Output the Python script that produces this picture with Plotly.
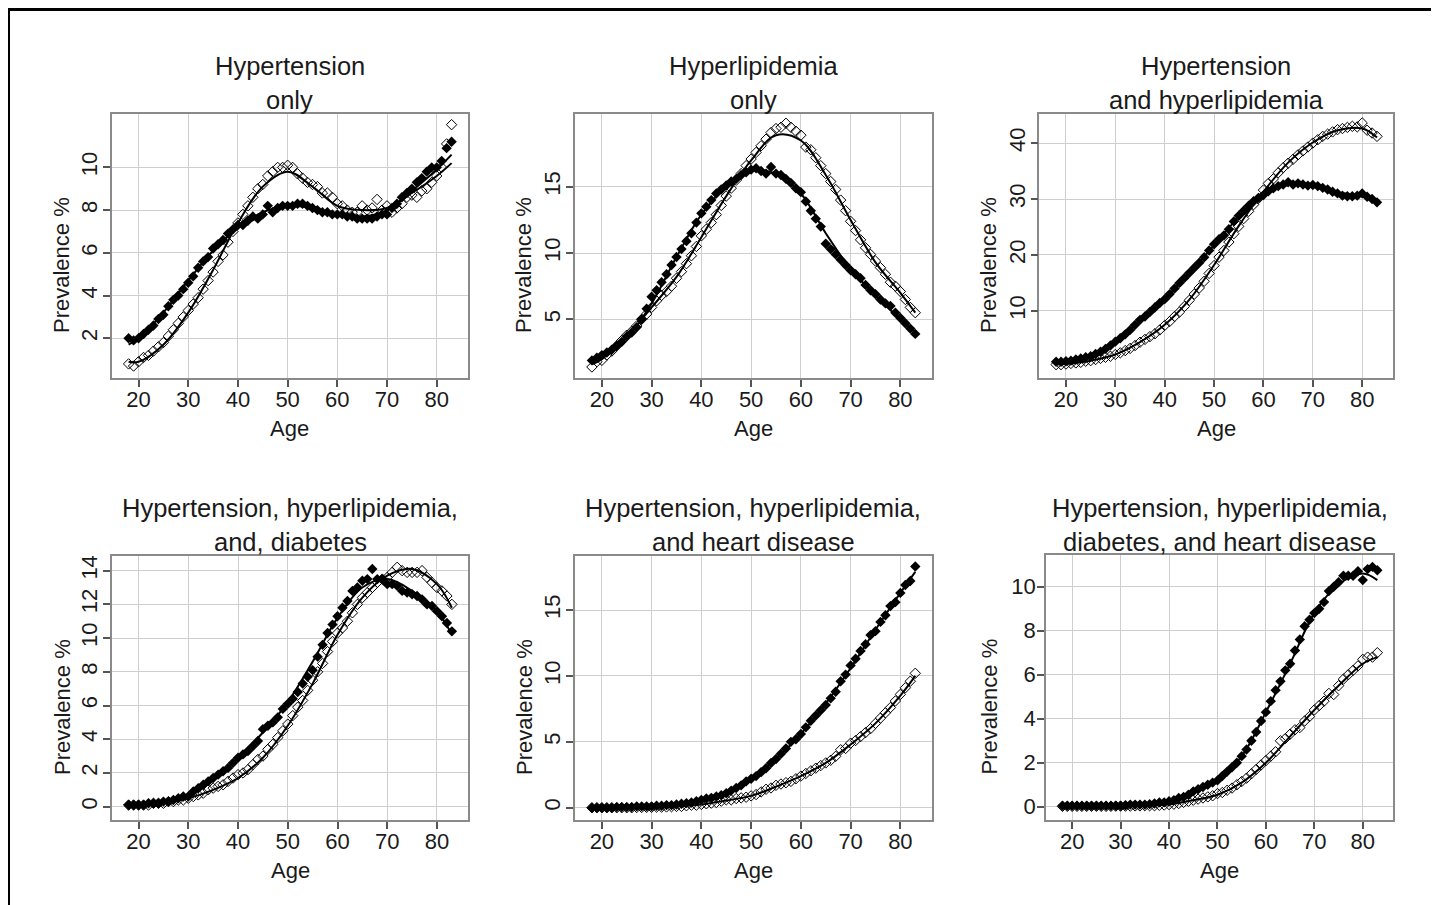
import plotly.graph_objects as go

# page body has an 8px margin: figure is sized to fill the rest of the window
OFF = 8
W, H = 1439 - OFF, 905 - OFF

ages = list(range(18, 84))
fit_ages = [18, 20, 25, 30, 35, 40, 45, 50, 55, 60, 65, 70, 75, 80, 83]

titles = [
    ["Hypertension", "only"],
    ["Hyperlipidemia", "only"],
    ["Hypertension", "and hyperlipidemia"],
    ["Hypertension, hyperlipidemia,", "and, diabetes"],
    ["Hypertension, hyperlipidemia,", "and heart disease"],
    ["Hypertension, hyperlipidemia,", "diabetes, and heart disease"],
]

# ---- Panel 1: Hypertension only
p1_filled = [2.0, 1.9, 2.0, 2.2, 2.4, 2.6, 2.9, 3.1, 3.5, 3.8,
             4.0, 4.3, 4.6, 4.9, 5.3, 5.6, 5.8, 6.2, 6.4, 6.6,
             6.9, 7.1, 7.3, 7.3, 7.5, 7.7, 7.6, 7.8, 8.2, 7.9,
             8.1, 8.2, 8.2, 8.2, 8.3, 8.3, 8.2, 8.1, 8.0, 7.9,
             7.9, 7.8, 7.8, 7.8, 7.7, 7.7, 7.6, 7.6, 7.6, 7.6,
             7.7, 7.8, 7.8, 8.1, 8.3, 8.6, 8.8, 9.0, 9.3, 9.5,
             9.8, 10.0, 10.0, 10.3, 10.9, 11.2]
p1_open = [0.8, 0.7, 0.9, 1.1, 1.2, 1.4, 1.6, 1.8, 2.1, 2.4,
           2.7, 3.0, 3.3, 3.6, 3.9, 4.3, 4.7, 5.1, 5.6, 5.9,
           6.5, 7.0, 7.4, 7.8, 8.2, 8.6, 9.0, 9.2, 9.6, 9.8,
           10.0, 10.0, 10.1, 10.0, 9.7, 9.5, 9.3, 9.2, 9.1, 8.8,
           8.8, 8.6, 8.3, 8.2, 8.0, 7.9, 7.9, 8.2, 8.0, 8.1,
           8.5, 8.0, 8.2, 7.9, 8.1, 8.3, 8.6, 8.7, 8.6, 8.9,
           9.0, 9.3, 9.6, 10.0, 11.1, 12.0]
p1_fit_filled = [1.7, 2.0, 3.2, 4.7, 6.1, 7.2, 7.9, 8.2, 8.1, 7.8, 7.7, 8.0, 8.9, 9.9, 10.6]
p1_fit_open = [0.9, 0.9, 1.7, 3.2, 5.2, 7.4, 9.1, 9.8, 9.1, 8.2, 8.0, 8.1, 8.8, 9.6, 10.2]

# ---- Panel 2: Hyperlipidemia only
p2_filled = [1.9, 2.1, 2.3, 2.5, 2.7, 3.0, 3.3, 3.7, 4.0, 4.4,
             5.0, 5.8, 6.7, 7.2, 7.8, 8.4, 9.1, 9.7, 10.3, 10.9,
             11.5, 12.3, 13.0, 13.5, 14.0, 14.5, 14.8, 15.1, 15.4, 15.6,
             15.9, 16.1, 16.3, 16.4, 16.2, 16.0, 16.5, 16.0, 15.9, 15.6,
             15.3, 14.9, 14.6, 13.9, 13.2, 12.6, 12.0, 10.7, 10.3, 9.9,
             9.5, 9.1, 8.7, 8.4, 8.1, 7.6, 7.2, 6.9, 6.5, 6.2,
             6.0, 5.5, 5.1, 4.7, 4.3, 3.9]
p2_open = [1.4, 1.8, 1.9, 2.3, 2.6, 3.0, 3.4, 3.8, 4.1, 4.5,
           5.0, 5.4, 5.9, 6.4, 6.8, 7.1, 7.5, 8.1, 8.6, 9.2,
           9.8, 10.5, 11.3, 11.8, 12.3, 12.9, 13.6, 14.3, 14.9, 15.5,
           16.0, 16.6, 17.1, 17.6, 18.1, 18.6, 19.1, 19.4, 19.5, 19.8,
           19.5, 19.2, 18.9, 18.0, 17.8, 17.2, 16.6, 16.0, 15.4, 14.8,
           14.0, 13.2, 12.4, 11.7, 11.0, 10.4, 9.9, 9.4, 8.9, 8.4,
           7.8, 7.5, 7.1, 6.5, 5.9, 5.5]
p2_fit_filled = [1.9, 2.3, 3.6, 6.2, 9.7, 12.9, 15.0, 16.2, 16.0, 14.5, 11.5, 8.8, 6.8, 5.0, 4.0]
p2_fit_open = [1.6, 2.0, 3.7, 5.9, 8.2, 11.2, 14.3, 17.0, 18.9, 18.5, 15.9, 12.5, 9.3, 7.0, 5.5]

# ---- Panel 3: Hypertension and hyperlipidemia
p3_filled = [0.9, 0.9, 1.0, 1.1, 1.3, 1.5, 1.7, 1.9, 2.3, 2.7,
             3.2, 3.8, 4.5, 5.1, 5.8, 6.6, 7.5, 8.4, 9.0, 9.8,
             10.6, 11.4, 12.1, 13.0, 14.0, 15.0, 15.9, 16.8, 17.7, 18.6,
             19.6, 20.8, 21.9, 22.8, 23.5, 24.6, 26.0, 27.0, 27.9, 28.8,
             29.6, 30.2, 30.7, 31.4, 31.9, 32.3, 32.6, 33.0, 32.6, 32.8,
             32.6, 32.4, 32.5, 32.3, 32.0, 31.7, 31.3, 31.0, 30.6, 30.5,
             30.5, 30.6, 31.0, 30.4, 30.0, 29.4]
p3_open = [0.4, 0.4, 0.5, 0.6, 0.7, 0.8, 1.0, 1.1, 1.3, 1.5,
           1.7, 1.9, 2.2, 2.5, 2.9, 3.3, 3.8, 4.4, 4.9, 5.4,
           5.9, 6.6, 7.4, 8.1, 9.0, 9.8, 10.8, 11.9, 13.0, 14.1,
           15.3, 16.7, 18.1, 19.6, 20.8, 22.3, 23.8, 25.1, 26.5, 27.8,
           29.0, 30.1, 31.6, 32.8, 33.6, 34.7, 35.6, 36.4, 37.1, 37.9,
           38.6, 39.3, 40.0, 40.6, 41.2, 41.6, 42.0, 42.4, 42.6, 42.8,
           43.0, 42.9, 43.6, 42.3, 41.8, 41.2]
p3_fit_filled = [0.8, 1.0, 1.9, 4.5, 8.3, 12.2, 16.8, 21.7, 26.8, 30.8, 32.5, 32.4, 31.2, 30.5, 29.6]
p3_fit_open = [0.4, 0.5, 1.1, 2.2, 4.4, 7.5, 12.0, 18.2, 25.2, 31.3, 36.5, 40.1, 42.3, 42.6, 41.0]

# ---- Panel 4: Hypertension, hyperlipidemia, and diabetes
p4_filled = [0.1, 0.1, 0.1, 0.1, 0.2, 0.2, 0.2, 0.3, 0.3, 0.4,
             0.5, 0.6, 0.6, 0.9, 1.1, 1.3, 1.5, 1.7, 1.9, 2.1,
             2.3, 2.6, 2.9, 3.1, 3.3, 3.6, 3.9, 4.6, 4.8, 5.0,
             5.3, 5.8, 6.1, 6.4, 6.8, 7.3, 7.7, 8.1, 8.9, 9.6,
             10.3, 10.8, 11.3, 11.8, 12.2, 12.8, 13.0, 13.4, 13.5, 14.1,
             13.5, 13.5, 13.2, 13.2, 13.1, 12.8, 12.7, 12.6, 12.5, 12.3,
             12.0, 11.9, 11.6, 11.3, 10.9, 10.4]
p4_open = [0.1, 0.1, 0.1, 0.1, 0.1, 0.2, 0.2, 0.2, 0.3, 0.3,
           0.4, 0.4, 0.5, 0.6, 0.7, 0.8, 1.0, 1.1, 1.2, 1.3,
           1.5, 1.7, 1.9, 2.0, 2.2, 2.5, 2.8, 3.0, 3.4, 3.7,
           4.1, 4.5, 4.9, 5.4, 5.9, 6.3, 6.9, 7.5, 8.0, 8.5,
           9.2, 9.8, 10.3, 10.6, 11.0, 11.5, 12.0, 12.4, 12.7, 13.0,
           13.3, 13.5, 13.6, 13.9, 14.2, 14.0, 13.9, 13.9, 13.9, 14.0,
           13.6, 13.3, 13.0, 12.8, 12.5, 12.0]
p4_fit_filled = [0.05, 0.1, 0.25, 0.6, 1.6, 2.9, 4.4, 6.2, 8.6, 11.2, 13.0, 13.5, 12.8, 11.6, 10.2]
p4_fit_open = [0.05, 0.1, 0.2, 0.5, 1.0, 1.7, 2.9, 4.8, 7.3, 10.2, 12.4, 13.7, 14.1, 13.2, 11.8]

# ---- Panel 5: Hypertension, hyperlipidemia, and heart disease
p5_filled = [0.0, 0.0, 0.0, 0.0, 0.0, 0.05, 0.05, 0.05, 0.05, 0.1,
             0.1, 0.1, 0.1, 0.15, 0.15, 0.2, 0.2, 0.25, 0.3, 0.35,
             0.4, 0.5, 0.6, 0.7, 0.75, 0.85, 0.95, 1.1, 1.3, 1.5,
             1.7, 2.0, 2.2, 2.4, 2.7, 3.0, 3.4, 3.7, 4.1, 4.5,
             5.0, 5.2, 5.6, 6.1, 6.6, 7.0, 7.4, 7.8, 8.3, 8.8,
             9.6, 10.1, 10.8, 11.3, 11.9, 12.4, 13.1, 13.4, 14.1, 14.6,
             15.3, 15.6, 16.3, 16.9, 17.2, 18.3]
p5_open = [0.0, 0.0, 0.0, 0.0, 0.0, 0.0, 0.0, 0.0, 0.0, 0.02,
           0.02, 0.03, 0.03, 0.05, 0.05, 0.06, 0.08, 0.1, 0.1, 0.15,
           0.2, 0.2, 0.25, 0.3, 0.35, 0.4, 0.5, 0.6, 0.6, 0.7,
           0.75, 0.8, 0.9, 1.0, 1.2, 1.4, 1.5, 1.7, 1.8, 1.9,
           2.0, 2.2, 2.4, 2.6, 2.8, 3.0, 3.2, 3.4, 3.6, 3.9,
           4.4, 4.5, 4.9, 5.1, 5.4, 5.7, 6.0, 6.4, 6.8, 7.2,
           7.6, 8.1, 8.6, 9.1, 9.6, 10.2]
p5_fit_filled = [0.0, 0.02, 0.05, 0.1, 0.25, 0.6, 1.2, 2.2, 3.7, 5.6, 7.9, 10.6, 13.5, 16.3, 17.9]
p5_fit_open = [0.0, 0.0, 0.01, 0.02, 0.1, 0.25, 0.55, 0.9, 1.6, 2.4, 3.4, 4.8, 6.4, 8.5, 10.0]

# ---- Panel 6: Hypertension, hyperlipidemia, diabetes, and heart disease
p6_filled = [0.05, 0.05, 0.05, 0.05, 0.05, 0.05, 0.05, 0.05, 0.05, 0.05,
             0.05, 0.05, 0.05, 0.07, 0.1, 0.1, 0.1, 0.1, 0.12, 0.15,
             0.2, 0.2, 0.25, 0.3, 0.4, 0.45, 0.55, 0.7, 0.8, 0.9,
             1.0, 1.1, 1.2, 1.4, 1.6, 1.8, 2.0, 2.3, 2.6, 3.0,
             3.4, 3.9, 4.3, 4.8, 5.3, 5.7, 6.2, 6.5, 7.1, 7.6,
             8.2, 8.5, 8.8, 9.0, 9.3, 9.8, 10.0, 10.2, 10.5, 10.5,
             10.5, 10.7, 10.3, 10.8, 10.9, 10.75]
p6_open = [0.02, 0.02, 0.02, 0.02, 0.02, 0.02, 0.02, 0.02, 0.02, 0.02,
           0.02, 0.03, 0.03, 0.03, 0.03, 0.04, 0.04, 0.05, 0.05, 0.05,
           0.07, 0.08, 0.1, 0.12, 0.15, 0.2, 0.25, 0.3, 0.35, 0.4,
           0.45, 0.5, 0.6, 0.65, 0.75, 0.85, 1.0, 1.15, 1.3, 1.5,
           1.7, 1.9, 2.1, 2.3, 2.5, 3.0, 3.1, 3.3, 3.5, 3.6,
           3.9, 4.1, 4.4, 4.6, 4.8, 5.15, 5.1, 5.5, 5.8, 6.0,
           6.2, 6.4, 6.7, 6.8, 6.8, 7.0]
p6_fit_filled = [0.05, 0.05, 0.05, 0.05, 0.1, 0.25, 0.65, 1.2, 2.3, 4.3, 6.5, 8.8, 10.1, 10.6, 10.3]
p6_fit_open = [0.02, 0.02, 0.03, 0.03, 0.05, 0.1, 0.3, 0.55, 1.1, 2.0, 3.2, 4.4, 5.5, 6.5, 6.8]

y_ticks = [
    [2, 4, 6, 8, 10],
    [5, 10, 15],
    [10, 20, 30, 40],
    [0, 2, 4, 6, 8, 10, 12, 14],
    [0, 5, 10, 15],
    [0, 2, 4, 6, 8, 10],
]
y_ranges = [[0.14, 12.5], [0.57, 20.5], [-2.0, 45.2], [-0.79, 14.87], [-0.93, 19.1], [-0.6, 11.44]]
x_ticks = [20, 30, 40, 50, 60, 70, 80]
x_range = [14.6, 86.3]

filled_series = [p1_filled, p2_filled, p3_filled, p4_filled, p5_filled, p6_filled]
open_series = [p1_open, p2_open, p3_open, p4_open, p5_open, p6_open]
fit_filled = [p1_fit_filled, p2_fit_filled, p3_fit_filled, p4_fit_filled, p5_fit_filled, p6_fit_filled]
fit_open = [p1_fit_open, p2_fit_open, p3_fit_open, p4_fit_open, p5_fit_open, p6_fit_open]

# plot regions in window pixels (left, right, top, bottom)
boxes = [
    (111.7, 468.0, 114, 378),
    (575.0, 931.7, 114, 378),
    (1039.3, 1393.3, 114, 378),
    (111.7, 468.3, 556, 820),
    (575.0, 931.7, 556, 820),
    (1046.0, 1393.3, 555, 820),
]
ylab_x = [62, 524, 989, 62, 524, 989]


def px(xw):
    return (xw - OFF) / W


def py(yw):
    return 1 - (yw - OFF) / H


FONT = "Liberation Sans, Arial, sans-serif"
TXT = "#1a1a1a"

fig = go.Figure()
layout = dict(
    width=W, height=H, margin=dict(l=0, r=0, t=0, b=0),
    paper_bgcolor="white", plot_bgcolor="white", showlegend=False,
    font=dict(family=FONT, color=TXT),
)
annotations = []

for i in range(6):
    k = "" if i == 0 else str(i + 1)
    xa, ya = "x" + k, "y" + k
    L, R, T, B = boxes[i]
    fig.add_trace(go.Scatter(x=ages, y=open_series[i], mode="markers", xaxis=xa, yaxis=ya,
                             marker=dict(symbol="diamond-open", size=8, color="black",
                                         line=dict(width=1, color="black"))))
    fig.add_trace(go.Scatter(x=ages, y=filled_series[i], mode="markers", xaxis=xa, yaxis=ya,
                             marker=dict(symbol="diamond", size=8, color="black",
                                         line=dict(width=0))))
    fig.add_trace(go.Scatter(x=fit_ages, y=fit_open[i], mode="lines", xaxis=xa, yaxis=ya,
                             line=dict(color="black", width=2, shape="spline", smoothing=1.0)))
    fig.add_trace(go.Scatter(x=fit_ages, y=fit_filled[i], mode="lines", xaxis=xa, yaxis=ya,
                             line=dict(color="black", width=2, shape="spline", smoothing=1.0)))

    axis_common = dict(
        showline=True, linecolor="#8a8a8a", linewidth=1.5, mirror=True,
        showgrid=True, gridcolor="#cfcfcf", gridwidth=1, zeroline=False,
        ticks="outside", ticklen=7, tickwidth=1.5, tickcolor="#555555",
        tickfont=dict(family=FONT, size=22, color=TXT),
    )
    layout["xaxis" + k] = dict(axis_common, domain=[px(L), px(R)], anchor=ya,
                               range=x_range, tickvals=x_ticks, ticktext=[str(v) for v in x_ticks],
                               ticklabelstandoff=-6)
    layout["yaxis" + k] = dict(axis_common, domain=[py(B), py(T)], anchor=xa,
                               range=y_ranges[i], tickvals=y_ticks[i],
                               ticktext=[str(v) for v in y_ticks[i]],
                               tickangle=0 if i == 5 else -90,
                               ticklabelstandoff=-3)
    cx = px((L + R) / 2)
    t1y = 66 if i < 3 else 508
    annotations.append(dict(text=titles[i][0], x=cx, y=py(t1y), xref="paper", yref="paper",
                            showarrow=False, xanchor="center", yanchor="middle",
                            font=dict(size=25.5, family=FONT, color=TXT)))
    annotations.append(dict(text=titles[i][1], x=cx, y=py(t1y + 34), xref="paper", yref="paper",
                            showarrow=False, xanchor="center", yanchor="middle",
                            font=dict(size=25.5, family=FONT, color=TXT)))
    annotations.append(dict(text="Age", x=cx, y=py(B + 50), xref="paper", yref="paper",
                            showarrow=False, xanchor="center", yanchor="middle",
                            font=dict(size=22, family=FONT, color=TXT)))
    annotations.append(dict(text="Prevalence %", x=px(ylab_x[i]), y=py((T + B) / 2 + 19),
                            xref="paper", yref="paper", textangle=-90,
                            showarrow=False, xanchor="center", yanchor="middle",
                            font=dict(size=22, family=FONT, color=TXT)))

layout["annotations"] = annotations
layout["shapes"] = [
    dict(type="line", xref="paper", yref="paper", x0=0, x1=1, y0=py(9.5), y1=py(9.5),
         line=dict(color="black", width=3)),
    dict(type="line", xref="paper", yref="paper", x0=px(8.5), x1=px(8.5), y0=0, y1=py(8),
         line=dict(color="black", width=3)),
]
fig.update_layout(**layout)
fig.write_html("out.html")
